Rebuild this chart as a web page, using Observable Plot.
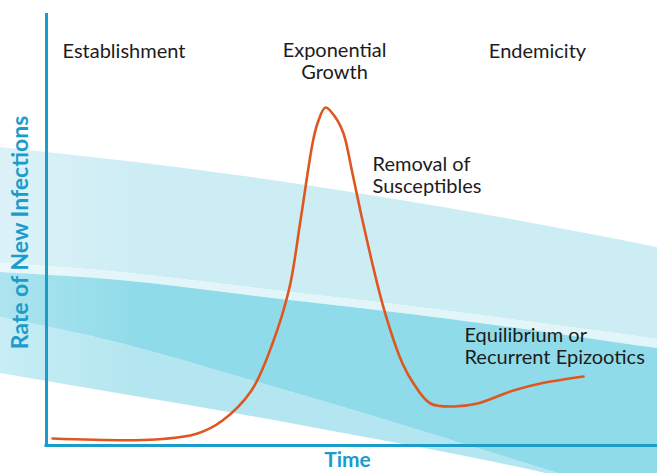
<!DOCTYPE html>
<html><head><meta charset="utf-8">
<script src="https://cdn.jsdelivr.net/npm/d3@7"></script>
<script src="https://cdn.jsdelivr.net/npm/@observablehq/plot@0.6"></script>
<style>html,body{margin:0;padding:0;background:#fff;overflow:hidden}</style>
</head><body><div id="chart"></div>
<script>
// Band edges (time units along x, rate units along y)
const bandT       = [-7.53, 12.11, 31.75, 51.39, 71.03, 90.67, 100];
const upperTop    = [68.98, 65.93, 62.36, 58.24, 53.61, 48.43, 45.79];
const stripTop    = [42.13, 40.05, 36.81, 33.56, 30.09, 26.39, 24.54];
const stripBottom = [40.05, 38.19, 34.95, 31.71, 28.24, 24.31, 22.45];
const darkBottom  = [29.63, 23.61, 15.74, 7.64, -0.93, -9.49, -13.89];
const lowerBottom = [16.67, 11.92, 7.18, 2.08, -3.24, -9.49, -13.89];

// Epizootic curve: rate of new infections over time
const curveT = [0.98, 17.84, 24.71, 28.81, 33.55, 36.99, 39.77, 41.57, 43.54, 44.35, 45.66, 47.30, 48.61, 50.08, 51.72, 55.16, 58.27, 60.07, 62.85, 66.61, 70.54, 76.43, 80.85, 87.89];
const curveR = [1.62, 1.39, 2.78, 5.79, 12.73, 23.61, 36.57, 52.08, 69.91, 74.54, 78.24, 75.93, 72.22, 62.96, 52.08, 31.94, 18.98, 14.35, 9.72, 9.03, 9.72, 12.73, 14.35, 15.97];

// Annotations
const noteText = ["Establishment", "Exponential\nGrowth", "Endemicity", "Removal of\nSusceptibles", "Equilibrium or\nRecurrent Epizootics"];
const noteT = [2.62, 47.14, 80.36, 53.36, 68.41];
const noteR = [89.81, 84.95, 89.81, 58.56, 18.98];
const noteAnchor = ["start", "middle", "middle", "start", "start"];

const xLabel = "Time";
const yLabel = "Rate of New Infections";

const bands = bandT.map((t, i) => ({t, upperTop: upperTop[i], stripTop: stripTop[i], stripBottom: stripBottom[i], darkBottom: darkBottom[i], lowerBottom: lowerBottom[i]}));
const curve = curveT.map((t, i) => ({t, r: curveR[i]}));
const notes = noteText.map((text, i) => ({text, t: noteT[i], r: noteR[i], anchor: noteAnchor[i]}));

const blue = "#1b9ccb";
const ink = "#1c1c1c";

const svg = Plot.plot({
  width: 657,
  height: 473,
  marginLeft: 46,
  marginRight: 0,
  marginTop: 13,
  marginBottom: 28,
  style: {fontFamily: "Lato, sans-serif", overflow: "hidden", background: "#fff"},
  x: {domain: [0, 100], axis: null},
  y: {domain: [0, 100], axis: null},
  marks: [
    Plot.areaY(bands, {x: "t", y1: "darkBottom", y2: "lowerBottom", fill: "url(#gLower)", curve: "natural"}),
    Plot.areaY(bands, {x: "t", y1: "stripTop", y2: "upperTop", fill: "url(#gUpper)", curve: "natural"}),
    Plot.areaY(bands, {x: "t", y1: "stripBottom", y2: "stripTop", fill: "url(#gStrip)", curve: "natural"}),
    Plot.areaY(bands, {x: "t", y1: "darkBottom", y2: "stripBottom", fill: "url(#gDark)", curve: "natural"}),
    Plot.ruleX([0], {y1: 0, y2: 100, stroke: blue, strokeWidth: 3}),
    Plot.ruleY([0], {x1: -0.25, x2: 100, stroke: blue, strokeWidth: 3}),
    Plot.line(curve, {x: "t", y: "r", stroke: "#e0561f", strokeWidth: 2.6, curve: "catmull-rom"}),
    Plot.text(notes.filter(d => d.anchor === "start"), {x: "t", y: "r", text: "text", textAnchor: "start", lineAnchor: "bottom", lineHeight: 1.1, fontSize: 20, fill: ink}),
    Plot.text(notes.filter(d => d.anchor === "middle"), {x: "t", y: "r", text: "text", textAnchor: "middle", lineAnchor: "bottom", lineHeight: 1.1, fontSize: 20, fill: ink}),
    Plot.text([xLabel], {x: 49.26, y: -5.0, text: d => d, textAnchor: "middle", lineAnchor: "bottom", fontSize: 21, fontWeight: "bold", fill: blue}),
    Plot.text([yLabel], {x: -4.3, y: 49.3, text: d => d, rotate: -90, textAnchor: "middle", lineAnchor: "middle", fontSize: 23, fontWeight: "bold", fill: blue})
  ]
});

// horizontal fade on the left edge of the bands
const defs = d3.select(svg).insert("defs", ":first-child");
const grads = [
  ["gUpper", "#dcf2f8", "#cdedf4"],
  ["gStrip", "#e9f7fa", "#e2f5f9"],
  ["gDark", "#ade4ef", "#8fdbe9"],
  ["gLower", "#c8edf5", "#b3e6f0"]
];
for (const [id, c0, c1] of grads) {
  const g = defs.append("linearGradient").attr("id", id).attr("gradientUnits", "userSpaceOnUse")
    .attr("x1", 0).attr("x2", 140).attr("y1", 0).attr("y2", 0);
  g.append("stop").attr("offset", 0).attr("stop-color", c0);
  g.append("stop").attr("offset", 1).attr("stop-color", c1);
}

document.getElementById("chart").appendChild(svg);
</script>
</body></html>
